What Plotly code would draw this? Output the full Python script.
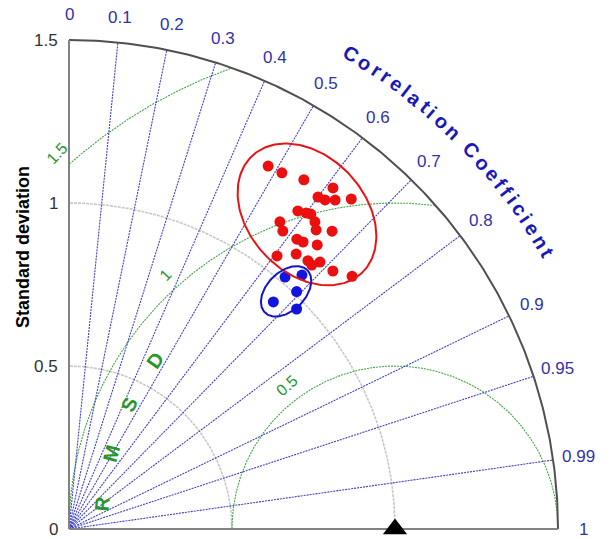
import numpy as np
import plotly.graph_objects as go

# ---------------- data ----------------
red_std = [1.270, 1.273, 1.291, 1.323, 1.273, 1.279, 1.298, 1.332, 1.202, 1.212,
           1.218, 1.143, 1.207, 1.190, 1.219, 1.125, 1.131, 1.136, 1.157, 1.053,
           1.094, 1.102, 1.100, 1.124, 1.132, 1.164]
red_corr = [0.481, 0.513, 0.558, 0.612, 0.600, 0.614, 0.629, 0.650, 0.584, 0.600,
            0.609, 0.566, 0.625, 0.637, 0.662, 0.583, 0.618, 0.632, 0.658, 0.606,
            0.637, 0.665, 0.677, 0.685, 0.715, 0.746]
blue_std = [1.018, 1.057, 1.009, 0.937, 0.971]
blue_corr = [0.651, 0.676, 0.692, 0.669, 0.719]

ref_std = 1.0
std_max = 1.5
std_ticks = [0, 0.5, 1.0, 1.5]
std_tick_labels = ["0", "0.5", "1", "1.5"]
std_grid = [0.5, 1.0]
corr_ticks = [0, 0.1, 0.2, 0.3, 0.4, 0.5, 0.6, 0.7, 0.8, 0.9, 0.95, 0.99, 1.0]
corr_tick_labels = ["0", "0.1", "0.2", "0.3", "0.4", "0.5", "0.6", "0.7", "0.8",
                    "0.9", "0.95", "0.99", "1"]
rmsd_levels = [0.5, 1.0, 1.5]
rmsd_labels = ["0.5", "1", "1.5"]

red_ellipse = dict(cx=0.730, cy=0.965, a=0.246, b=0.179, angle=-47)
blue_ellipse = dict(cx=0.666, cy=0.729, a=0.092, b=0.059, angle=45)

# ---------------- styles ----------------
FONT = "Liberation Sans, Arial, sans-serif"
BLUE_LINE = "rgb(65,65,200)"
BLUE_TXT = "rgb(50,50,170)"
TITLE_BLUE = "rgb(25,25,185)"
GREEN_LINE = "rgb(70,165,70)"
GREEN_TXT = "rgb(40,150,40)"
GRAY_GRID = "rgb(200,200,200)"
PPU = 326.0  # pixels per std unit


def to_xy(std, corr):
    s = np.asarray(std, float)
    c = np.asarray(corr, float)
    return s * c, s * np.sqrt(1 - c ** 2)


fig = go.Figure()


def add_line(x, y, color, width, dash="solid"):
    fig.add_trace(go.Scatter(x=x, y=y, mode="lines", hoverinfo="skip",
                             line=dict(color=color, width=width, dash=dash),
                             showlegend=False))


# std grid arcs
th = np.linspace(0, np.pi / 2, 200)
for r in std_grid:
    add_line(r * np.cos(th), r * np.sin(th), GRAY_GRID, 1.6, "3px,1px")

# RMSD arcs centered on the reference point, clipped to the quarter circle
t = np.linspace(0, np.pi, 600)
for r in rmsd_levels:
    x = ref_std + r * np.cos(t)
    y = r * np.sin(t)
    ok = (x >= 0) & (x ** 2 + y ** 2 <= std_max ** 2 + 1e-9)
    add_line(np.where(ok, x, np.nan), np.where(ok, y, np.nan), GREEN_LINE, 1.1, "2px,1px")

# correlation rays
for c in corr_ticks[1:-1]:
    add_line([0, std_max * c], [0, std_max * np.sqrt(1 - c * c)], BLUE_LINE, 1.1, "2px,1px")

# outer arc and axes
add_line(std_max * np.cos(th), std_max * np.sin(th), "rgb(80,80,80)", 2)
add_line([0, 0], [0, std_max], "rgb(130,130,130)", 2)
add_line([0, std_max], [0, 0], "rgb(130,130,130)", 2)

# points
rx, ry = to_xy(red_std, red_corr)
fig.add_trace(go.Scatter(x=rx, y=ry, mode="markers", showlegend=False, hoverinfo="skip",
                         marker=dict(color="rgb(235,15,15)", size=11)))
bx, by = to_xy(blue_std, blue_corr)
fig.add_trace(go.Scatter(x=bx, y=by, mode="markers", showlegend=False, hoverinfo="skip",
                         marker=dict(color="rgb(20,20,225)", size=11)))


# ellipses
def ellipse(e):
    tt = np.linspace(0, 2 * np.pi, 200)
    a, b, ang = e["a"], e["b"], np.radians(e["angle"])
    x = e["cx"] + a * np.cos(tt) * np.cos(ang) - b * np.sin(tt) * np.sin(ang)
    y = e["cy"] + a * np.cos(tt) * np.sin(ang) + b * np.sin(tt) * np.cos(ang)
    return x, y


ex, ey = ellipse(red_ellipse)
add_line(ex, ey, "rgb(232,20,20)", 2)
ex, ey = ellipse(blue_ellipse)
add_line(ex, ey, "rgb(20,20,200)", 2)

# reference point
fig.add_trace(go.Scatter(x=[ref_std], y=[0], mode="markers", showlegend=False, hoverinfo="skip",
                         marker=dict(symbol="triangle-up", color="black", size=21)))

ann = []
# std tick labels
for v, lab in zip(std_ticks, std_tick_labels):
    ann.append(dict(x=-0.028, y=v, text=lab, xanchor="right", yanchor="middle",
                    font=dict(family=FONT, size=17, color="rgb(50,50,50)")))
# std axis title
ann.append(dict(x=-0.141, y=0.865, text="<b>Standard deviation</b>", textangle=-90,
                xanchor="center", yanchor="middle",
                font=dict(family=FONT, size=18, color="black")))
# correlation labels
for c, lab in zip(corr_ticks, corr_tick_labels):
    r = 1.578
    ann.append(dict(x=r * c, y=r * np.sqrt(1 - c * c), text=lab, xanchor="center",
                    yanchor="middle", font=dict(family=FONT, size=17, color=BLUE_TXT)))

# curved title "Correlation Coefficient"
title = "Correlation Coefficient"
wb = {"C": .722, "o": .611, "r": .389, "e": .556, "l": .278, "a": .556, "t": .333,
      "i": .278, "n": .611, " ": .278, "f": .333, "c": .556}
fs = 20
ws = [wb[ch] * fs for ch in title]
base = [0.0]
for i in range(1, len(ws)):
    base.append(base[-1] + (ws[i - 1] + ws[i]) / 2)
R_t = 1.695
phi0, phi1 = 59.3, 30.0
L = R_t * np.radians(phi0 - phi1) * PPU
sp = (L - base[-1]) / (len(ws) - 1)
for i, ch in enumerate(title):
    if ch == " ":
        continue
    s = base[i] + i * sp
    phi = phi0 - np.degrees(s / (R_t * PPU))
    ann.append(dict(x=R_t * np.cos(np.radians(phi)), y=R_t * np.sin(np.radians(phi)),
                    text="<b>%s</b>" % ch, textangle=90 - phi, xanchor="center",
                    yanchor="middle", font=dict(family=FONT, size=fs, color=TITLE_BLUE)))

# RMSD title letters along an arc around the reference point
for ch, psi in zip("RMSD", [175, 165, 155, 145]):
    rr = 0.9
    ann.append(dict(x=ref_std + rr * np.cos(np.radians(psi)), y=rr * np.sin(np.radians(psi)),
                    text="<b>%s</b>" % ch, textangle=-(psi - 90), xanchor="center",
                    yanchor="middle", font=dict(family=FONT, size=20, color=GREEN_TXT)))

# RMSD value labels
for r, lab, psi in zip(rmsd_levels, rmsd_labels, [127, 132, 132]):
    rr = r + 0.05
    ann.append(dict(x=ref_std + rr * np.cos(np.radians(psi)), y=rr * np.sin(np.radians(psi)),
                    text=lab, textangle=-(psi - 90) - 5, xanchor="center", yanchor="middle",
                    font=dict(family=FONT, size=16, color=GREEN_TXT)))

for a in ann:
    a.update(showarrow=False, xref="x", yref="y")

# origin of the diagram at pixel (69, 529) of the 614x539 page
ox, oy = 69, 529
W, H = 614, 539
fig.update_layout(
    width=W, height=H, autosize=False,
    margin=dict(l=0, r=0, t=0, b=0),
    plot_bgcolor="white", paper_bgcolor="white",
    xaxis=dict(range=[-ox / PPU, (W - ox) / PPU], visible=False, fixedrange=True),
    yaxis=dict(range=[-(H - oy) / PPU, oy / PPU], visible=False, fixedrange=True),
    annotations=ann,
    showlegend=False,
    hovermode=False,
)

# remove the default page margin so the figure fills the window exactly
fig.write_html("out.html", config={"displayModeBar": False},
               post_script="document.body.style.margin='0';document.body.style.overflow='hidden';")
